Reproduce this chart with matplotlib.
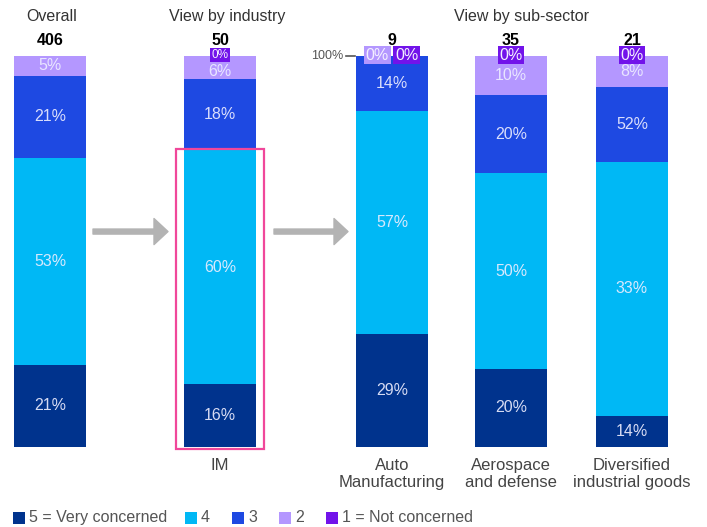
import matplotlib
matplotlib.use("Agg")
import matplotlib.pyplot as plt
from matplotlib.patches import Rectangle
import numpy as np

plt.rcParams['font.family'] = ['Liberation Sans', 'DejaVu Sans']

# data
groups = ['Overall', 'IM', 'Auto\nManufacturing', 'Aerospace\nand defense', 'Diversified\nindustrial goods']
bar_labels = ['', 'IM', 'Auto\nManufacturing', 'Aerospace\nand defense', 'Diversified\nindustrial goods']
n_resp = [406, 50, 9, 35, 21]

levels = ['5 = Very concerned', '4', '3', '2', '1 = Not concerned']
colors = ['#00338D', '#00B8F5', '#1E49E2', '#B497FF', '#7213EA']

# drawn segment heights (%), bottom to top: 5, 4, 3, 2, 1
v5 = [21, 16, 29, 20, 8]
v4 = [53, 60, 57, 50, 65]
v3 = [21, 18, 14, 20, 19]
v2 = [5, 6, 0, 10, 8]
v1 = [np.nan, 0, 0, 0, 0]

# labels as printed in the chart
lab5 = ['21%', '16%', '29%', '20%', '14%']
lab4 = ['53%', '60%', '57%', '50%', '33%']
lab3 = ['21%', '18%', '14%', '20%', '52%']
lab2 = ['5%', '6%', '0%', '10%', '8%']
lab1 = ['', '0%', '0%', '0%', '0%']

xpos = [50, 220, 392, 511, 632]
width = 72

fig = plt.figure(figsize=(7.07, 5.27), dpi=100)
ax = fig.add_axes([0, 0, 1, 1])
ax.set_xlim(0, 707)
ax.set_ylim(-20.46, 114.32)
ax.axis('off')

series = [v5, v4, v3, v2, v1]
labs = [lab5, lab4, lab3, lab2, lab1]
bottom = np.zeros(len(groups))
zero_boxes = [[] for _ in groups]
for lvl, (vals, lab, col) in enumerate(zip(series, labs, colors)):
    vals = np.array(vals, dtype=float)
    h = np.nan_to_num(vals)
    ax.bar(xpos, h, width, bottom=bottom, color=col, linewidth=0)
    for i, (v, t) in enumerate(zip(vals, lab)):
        if np.isnan(v) or t == '':
            continue
        if v > 0:
            y = bottom[i] + v / 2
            if lvl == 3 and v < 7 and v1[i] == 0:
                y -= 1.0  # leave room for the 0% tag above
            ax.text(xpos[i], y, t, ha='center', va='center',
                    color='#EEEEFF', alpha=0.9, fontsize=11.5)
        else:
            zero_boxes[i].append((t, col))
    bottom += h

# zero-value labels sitting on top of the bars
for i, boxes in enumerate(zero_boxes):
    k = len(boxes)
    fs = 8.5 if i == 1 else 11.5
    for j, (t, col) in enumerate(boxes):
        dx = (j - (k - 1) / 2) * 29
        ax.text(xpos[i] + dx, 100.2, t, ha='center', va='center', color='#F4F0FF',
                fontsize=fs,
                bbox=dict(boxstyle='square,pad=0.1', fc=col, ec='none'))

# respondent counts
for x, n in zip(xpos, n_resp):
    ax.text(x, 103.9, str(n), ha='center', va='center', fontsize=11.5,
            fontweight='bold', color='black')

# bar labels below
for x, t in zip(xpos, bar_labels):
    ax.text(x, -2.9, t, ha='center', va='top', fontsize=12, color='#444444',
            linespacing=1.12)

# headers
ax.text(52, 110.2, 'Overall', ha='center', va='center', fontsize=11.5, color='#333333')
ax.text(227, 110.2, 'View by industry', ha='center', va='center', fontsize=11.5, color='#333333')
ax.text(521, 110.2, 'View by sub-sector', ha='center', va='center', fontsize=11.5, color='#333333')

# 100% marker
ax.text(343, 100, '100%', ha='right', va='center', fontsize=9, color='#555555')
ax.plot([346, 355], [100, 100], color='#555555', lw=1.2)

# arrows
for x0, x1 in [(93, 168), (274, 348)]:
    ax.annotate('', xy=(x1, 55.1), xytext=(x0, 55.1),
                arrowprops=dict(arrowstyle='simple,head_length=0.72,head_width=1.34,tail_width=0.26',
                                mutation_scale=14, color='#B3B3B3', shrinkA=0, shrinkB=0))

# highlight frame around IM
ax.add_patch(Rectangle((176, -0.5), 88, 76.7, fill=False, ec='#F0479A', lw=1.6, clip_on=False))

# legend
lx = [13, 185, 232, 279, 326]
for x, name, col in zip(lx, levels, colors):
    ax.add_patch(Rectangle((x, -19.6), 12, 3.1, fc=col, ec='none', clip_on=False))
    ax.text(x + 16, -18.0, name, ha='left', va='center', fontsize=11.5, color='#555555')

fig.savefig('out.png', dpi=100)
